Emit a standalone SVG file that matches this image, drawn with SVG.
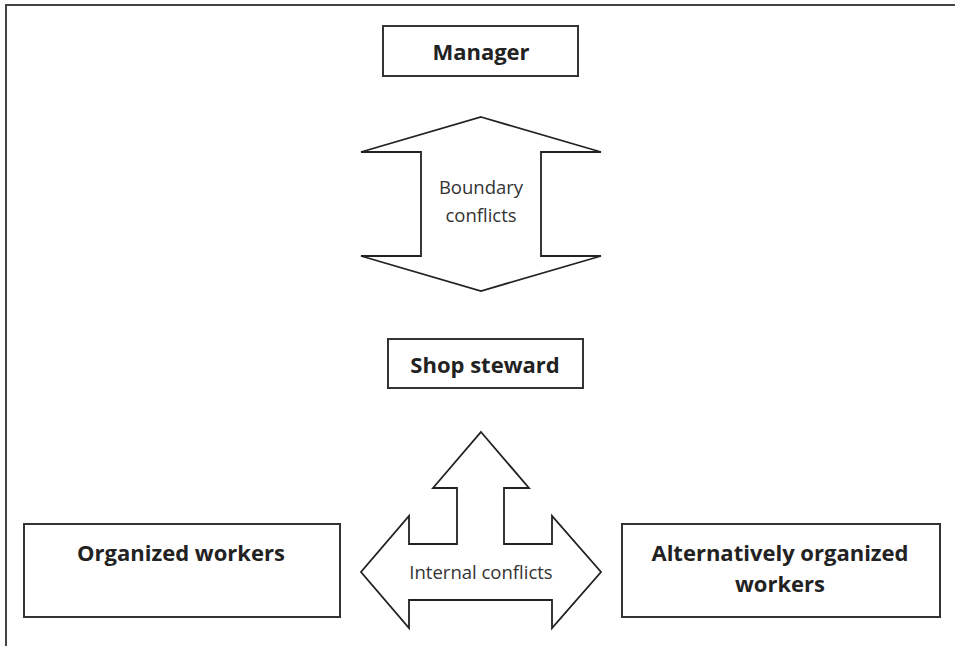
<svg xmlns="http://www.w3.org/2000/svg" width="955" height="646" viewBox="0 0 955 646">
<style>
.box{fill:#fff;stroke:#333;stroke-width:2}
.arr{fill:#fff;stroke:#222;stroke-width:1.8;stroke-linejoin:miter}
.frame{fill:none;stroke:#444;stroke-width:2}
.b{font-family:"Open Sans","Liberation Sans",sans-serif;font-weight:bold;font-size:22px;fill:#222;text-anchor:middle}
.n{font-family:"Open Sans","Liberation Sans",sans-serif;font-size:18.5px;fill:#333;text-anchor:middle}
</style>
<path class="frame" d="M6,646 V5 H955"/>
<g id="connectors">
<path class="arr" d="M481,117 L601,152 H541 V256 H601 L481,291 L361,256 H421 V152 H361 Z"/>
<path class="arr" d="M481,432 L529,488 H504 V544 H552 V516 L601,572 L552,628 V600 H409 V628 L361,572 L409,516 V544 H457 V488 H433 Z"/>
<text class="n" x="481" y="194">Boundary</text>
<text class="n" x="481" y="222">conflicts</text>
<text class="n" x="481" y="579">Internal conflicts</text>
</g>
<g id="manager">
<rect class="box" x="383" y="26" width="195" height="50"/>
<text class="b" x="481" y="60">Manager</text>
</g>
<g id="shop-steward">
<rect class="box" x="388" y="339" width="195" height="49"/>
<text class="b" x="485" y="373">Shop steward</text>
</g>
<g id="organized-workers">
<rect class="box" x="24" y="524" width="316" height="93"/>
<text class="b" x="181" y="561">Organized workers</text>
</g>
<g id="alternatively-organized-workers">
<rect class="box" x="622" y="524" width="318" height="93"/>
<text class="b" x="780" y="561">Alternatively organized</text>
<text class="b" x="780" y="592">workers</text>
</g>
</svg>
